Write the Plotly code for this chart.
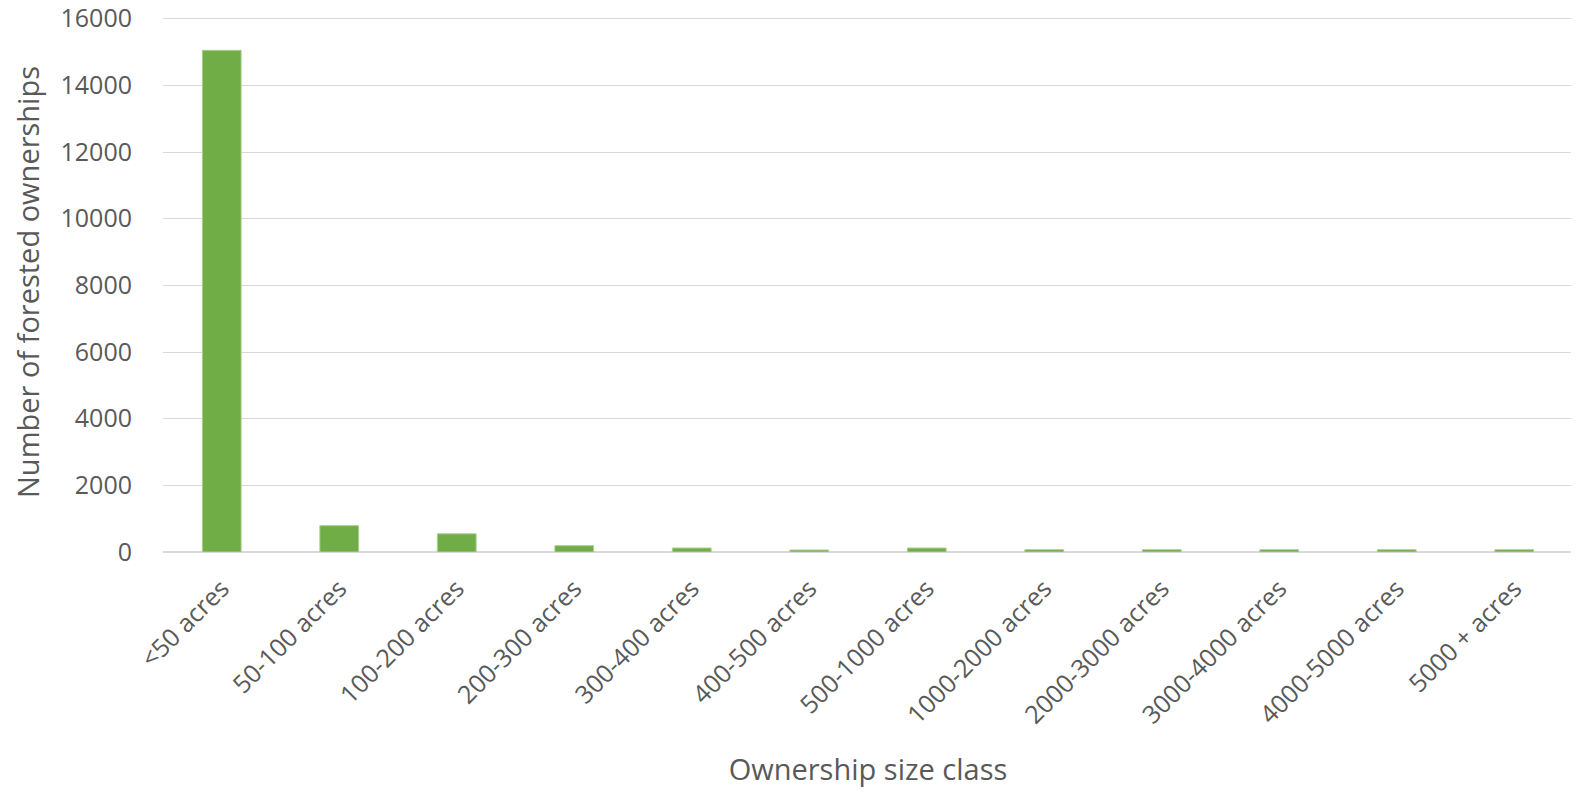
import plotly.graph_objects as go

categories = ["<50 acres", "50-100 acres", "100-200 acres", "200-300 acres", "300-400 acres",
              "400-500 acres", "500-1000 acres", "1000-2000 acres", "2000-3000 acres",
              "3000-4000 acres", "4000-5000 acres", "5000 + acres"]
ownerships = [15050, 790, 545, 190, 120, 60, 120, 70, 70, 70, 70, 70]
y_ticks = [0, 2000, 4000, 6000, 8000, 10000, 12000, 14000, 16000]

font_family = "Open Sans, Noto Sans, sans-serif"
gray = "#595959"

fig = go.Figure(go.Bar(
    x=categories, y=ownerships,
    marker=dict(color="#70AD47", line=dict(color="#A9D18E", width=1)),
))

fig.update_layout(
    width=1579, height=793,
    margin=dict(l=155, r=14, t=4, b=249),
    plot_bgcolor="white", paper_bgcolor="white",
    bargap=0.67,
    showlegend=False,
    font=dict(family=font_family, color=gray, size=25),
)
fig.update_xaxes(
    title=dict(text="Ownership size class", font=dict(size=29, color=gray), standoff=30),
    tickangle=-45, tickfont=dict(size=25, color=gray),
    showline=False, showgrid=False, ticks="", ticklabelstandoff=16,
    automargin=False,
)
fig.update_yaxes(
    title=dict(text="Number of forested ownerships", font=dict(size=29, color=gray), standoff=12),
    range=[0, 16200], tickvals=y_ticks, ticktext=[str(v) for v in y_ticks],
    tickfont=dict(size=25, color=gray), ticklabeloverflow="allow",
    showgrid=True, gridcolor="#D9D9D9", gridwidth=1.3,
    zeroline=True, zerolinecolor="#D9D9D9", zerolinewidth=2,
    ticks="", ticklabelstandoff=30, automargin=False,
)

fig.write_html("out.html")
